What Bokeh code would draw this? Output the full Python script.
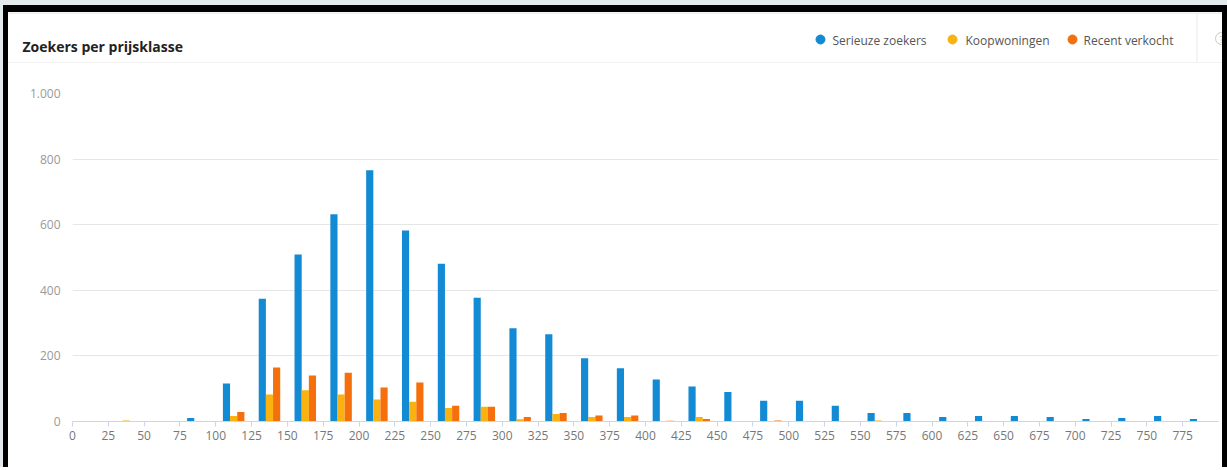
from bokeh.plotting import figure
from bokeh.models import Range1d, FixedTicker, ColumnDataSource, Div
from bokeh.layouts import column, row
from bokeh.embed import file_html
from bokeh.resources import INLINE
from bokeh.core.properties import value

# ---------------- data ----------------
bin_starts = list(range(0, 800, 25))          # price classes (x 1000 euro), width 25
x_tick_values = list(range(0, 800, 25))
x_tick_labels = [str(v) for v in x_tick_values]
y_tick_values = [0, 200, 400, 600, 800, 1000]
y_tick_labels = ["0", "200", "400", "600", "800", "1.000"]

serieuze_zoekers = [0, 0, 0, 11, 116, 374, 509, 632, 766, 582, 481, 377, 284, 266, 193, 162,
                    128, 107, 90, 63, 63, 48, 26, 26, 14, 17, 17, 14, 8, 11, 17, 8]
koopwoningen = [0, 3, 0, 0, 17, 82, 95, 82, 67, 60, 41, 45, 7, 23, 14, 14,
                0, 14, 0, 0, 0, 0, 3, 0, 0, 0, 0, 0, 0, 0, 0, 0]
recent_verkocht = [0, 0, 0, 0, 29, 165, 140, 149, 104, 119, 48, 45, 14, 26, 18, 18,
                   2, 8, 0, 3, 0, 0, 0, 0, 0, 0, 0, 0, 0, 0, 0, 0]

title_text = "Zoekers per prijsklasse"
series_names = ["Serieuze zoekers", "Koopwoningen", "Recent verkocht"]
series_values = [serieuze_zoekers, koopwoningen, recent_verkocht]
colors = ["#138ad4", "#f9b20f", "#f5700c"]

# ---------------- page geometry (pixels) ----------------
W, H = 1227, 470
TOP_BAND = 12          # grey 0-5, black 5-12
BOTTOM_BAND = 3
CARD_L, CARD_R = 8, 1222
CARD_W = CARD_R - CARD_L
HEADER_BOTTOM = 63
CARD_STRIP = 3         # light strip at the bottom of the card
MID_H = H - TOP_BAND - BOTTOM_BAND
GREY_BG = "#e3eaee"


def block(w, h, html):
    return Div(text=html, width=w, height=h, margin=(0, 0, 0, 0))


top_div = block(W, TOP_BAND,
                f'<div style="width:{W}px;height:{TOP_BAND}px;background:#000;'
                f'border-top:5px solid {GREY_BG};border-left:3px solid {GREY_BG};'
                f'box-sizing:border-box"></div>')
left_div = block(CARD_L, MID_H,
                 f'<div style="width:{CARD_L}px;height:{MID_H}px;background:#000;'
                 f'border-left:3px solid {GREY_BG};box-sizing:border-box"></div>')
right_div = block(W - CARD_R, MID_H,
                  f'<div style="width:{W - CARD_R}px;height:{MID_H}px;background:#000"></div>')
bottom_div = block(W, BOTTOM_BAND,
                   f'<div style="width:{W}px;height:{BOTTOM_BAND}px;background:#000;'
                   f'border-left:3px solid {GREY_BG};box-sizing:border-box"></div>')
card_strip = block(CARD_W, CARD_STRIP,
                   f'<div style="width:{CARD_W}px;height:{CARD_STRIP}px;display:flex">'
                   f'<div style="width:65px;background:#fff"></div>'
                   f'<div style="width:17px;background:#dedede"></div>'
                   f'<div style="width:435px;background:#ececec"></div>'
                   f'<div style="flex:1;background:#f6f6f6"></div></div>')

# ---------------- header (pixel space) ----------------
HH = HEADER_BOTTOM - TOP_BAND
hd = figure(width=CARD_W, height=HH, x_range=Range1d(CARD_L, CARD_R),
            y_range=Range1d(HEADER_BOTTOM, TOP_BAND),
            output_backend="svg", toolbar_location=None,
            x_axis_type=None, y_axis_type=None,
            min_border_left=0, min_border_right=0, min_border_top=0, min_border_bottom=0)
hd.outline_line_color = None
hd.background_fill_color = "white"
hd.border_fill_color = "white"


def rect(f, l, r, t, b, color):
    f.quad(left=[l], right=[r], top=[t], bottom=[b], fill_color=color, line_color=None)


rect(hd, CARD_L, CARD_R, 12, 13, "#dcdcdc")
rect(hd, CARD_L, CARD_R, 62, 63, "#e6e6e6")
rect(hd, 1196, 1197, 13, 62, "#ececec")
hd.text(x=[22], y=[46], text=[title_text], text_font=value("Open Sans"),
        text_font_style="bold", text_font_size=value("14px"), text_color="#222222",
        text_align="left", text_baseline="alphabetic")
legend_dot_x = [820, 952, 1072]
legend_txt_x = [832, 965, 1083]
for name, col, dx, tx in zip(series_names, colors, legend_dot_x, legend_txt_x):
    hd.scatter(x=[dx], y=[39], marker="circle", size=9, fill_color=col, line_color=col)
    hd.text(x=[tx], y=[39.5], text=[name], text_font=value("Open Sans"),
            text_font_size=value("12px"), text_color="#555555",
            text_align="left", text_baseline="middle")
hd.scatter(x=[1221], y=[38], marker="circle", size=12, fill_color=None,
           line_color="#c8c8c8", line_width=1)
hd.text(x=[1221], y=[38.5], text=["?"], text_font=value("Open Sans"),
        text_font_size=value("9px"), text_color="#bbbbbb",
        text_align="center", text_baseline="middle")

# ---------------- chart ----------------
FRAME_L, FRAME_R, FRAME_T, FRAME_B = 72, 1218, 93, 421   # page pixels
CHART_H = H - BOTTOM_BAND - CARD_STRIP - HEADER_BOTTOM
BIN = 25
BAR_W = BIN * 0.2
offsets = [-BAR_W, 0, BAR_W]

p = figure(width=CARD_W, height=CHART_H, x_range=Range1d(0, 800), y_range=Range1d(0, 1000),
           output_backend="svg", toolbar_location=None,
           min_border_left=FRAME_L - CARD_L, min_border_right=CARD_R - FRAME_R,
           min_border_top=FRAME_T - HEADER_BOTTOM,
           min_border_bottom=HEADER_BOTTOM + CHART_H - FRAME_B)
p.outline_line_color = None
p.background_fill_color = "white"
p.border_fill_color = "white"

centers = [s + BIN / 2 for s in bin_starts]
for name, vals, col, off in zip(series_names, series_values, colors, offsets):
    src = ColumnDataSource(dict(x=[c + off for c in centers], top=vals))
    p.vbar(x="x", top="top", bottom=0, width=BAR_W, source=src,
           fill_color=col, line_color=None)

xa = p.xaxis[0]
xa.ticker = FixedTicker(ticks=x_tick_values)
xa.major_label_overrides = {v: l for v, l in zip(x_tick_values, x_tick_labels)}
xa.axis_line_color = "#ccd6eb"
xa.major_tick_line_color = "#ccd6eb"
xa.major_tick_out = 5
xa.major_tick_in = 0
xa.minor_tick_line_color = None
xa.major_label_text_font = "Open Sans"
xa.major_label_text_font_size = "12px"
xa.major_label_text_color = "#777777"
xa.major_label_standoff = 4

ya = p.yaxis[0]
ya.ticker = FixedTicker(ticks=y_tick_values)
ya.major_label_overrides = {v: l for v, l in zip(y_tick_values, y_tick_labels)}
ya.axis_line_color = None
ya.major_tick_line_color = None
ya.minor_tick_line_color = None
ya.major_label_text_font = "Open Sans"
ya.major_label_text_font_size = "12px"
ya.major_label_text_color = "#999999"
ya.major_label_standoff = 6

p.xgrid.visible = False
p.ygrid.ticker = FixedTicker(ticks=y_tick_values)
p.ygrid.grid_line_color = "#e6e6e6"

card = column(hd, row(p), card_strip)
layout = column(top_div, row(left_div, card, right_div), bottom_div)

open("out.html", "w").write(file_html(layout, INLINE))
